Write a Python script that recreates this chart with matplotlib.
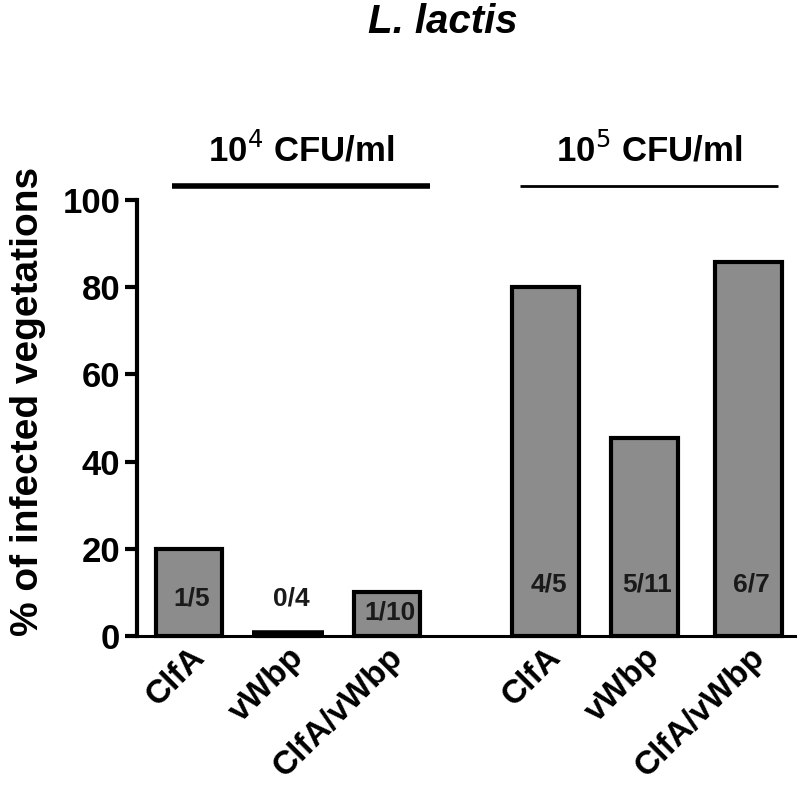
import numpy as np
import matplotlib.pyplot as plt
from matplotlib.transforms import ScaledTranslation

plt.rcParams['font.family'] = ['Liberation Sans', 'DejaVu Sans']

#---data
groups = ['10$^4$ CFU/ml', '10$^5$ CFU/ml']
strains = ['ClfA', 'vWbp', 'ClfA/vWbp', 'ClfA', 'vWbp', 'ClfA/vWbp']
infected = [1, 0, 1, 4, 5, 6]
total = [5, 4, 10, 5, 11, 7]
percent = [100.0 * a / b for a, b in zip(infected, total)]
fractions = [f"{a}/{b}" for a, b in zip(infected, total)]

#---layout
xpos = np.array([0, 1, 2, 3.6, 4.6, 5.65])
label_y = [8.7, 8.7, 5.3, 11.7, 11.7, 11.7]

fig = plt.figure(figsize=(8, 7.91), dpi=100)
ax = fig.add_axes([0.171, 0.196, 0.823, 0.551])

ax.bar(xpos, percent, width=0.67, color='#8c8c8c', edgecolor='black',
       linewidth=3, zorder=3, clip_on=False)
# the 0/4 bar shows as a flat black line
for x, p in zip(xpos, percent):
    if p == 0:
        ax.plot([x - 0.36, x + 0.36], [0.6, 0.6], color='black', lw=4,
                zorder=4, solid_capstyle='butt', clip_on=False)

for x, y, t in zip(xpos, label_y, fractions):
    ax.text(x + 0.03, y, t, ha='center', va='center', fontsize=19,
            fontweight='bold', color='#1a1a1a', zorder=5)

ax.set_xlim(-0.525, 6.12)
ax.set_ylim(0, 100)
ax.set_yticks([0, 20, 40, 60, 80, 100])
ax.set_xticks(xpos)
ax.set_xticklabels(strains, rotation=45, ha='right', rotation_mode='anchor',
                   fontsize=24, fontweight='bold')
shift = ScaledTranslation(0.2, 0, fig.dpi_scale_trans)
for lab in ax.get_xticklabels():
    lab.set_transform(lab.get_transform() + shift)
for lab in ax.get_yticklabels():
    lab.set_fontsize(25)
    lab.set_fontweight('bold')

ax.tick_params(axis='y', length=9, width=3, pad=3)
ax.tick_params(axis='x', length=0, pad=4)
ax.spines['top'].set_visible(False)
ax.spines['right'].set_visible(False)
ax.spines['left'].set_linewidth(3)
ax.spines['bottom'].set_linewidth(2.2)
ax.spines['bottom'].set_zorder(2)

ax.set_ylabel('% of infected vegetations', fontsize=28, fontweight='bold')
ax.yaxis.set_label_coords(-0.138, 0.537)

#---group brackets
spans = [(-0.17, 2.43, 4), (3.34, 5.95, 2)]
for (x0, x1, lw), g in zip(spans, groups):
    ax.plot([x0, x1], [103.3, 103.3], color='black', lw=lw, clip_on=False,
            solid_capstyle='butt')
    ax.text((x0 + x1) / 2, 111.5, g, ha='center', va='center', fontsize=25,
            fontweight='bold')

fig.text(0.554, 0.972, 'L. lactis', ha='center', va='center', fontsize=29,
         fontweight='bold', fontstyle='italic')

plt.savefig('out.png', dpi=100)
